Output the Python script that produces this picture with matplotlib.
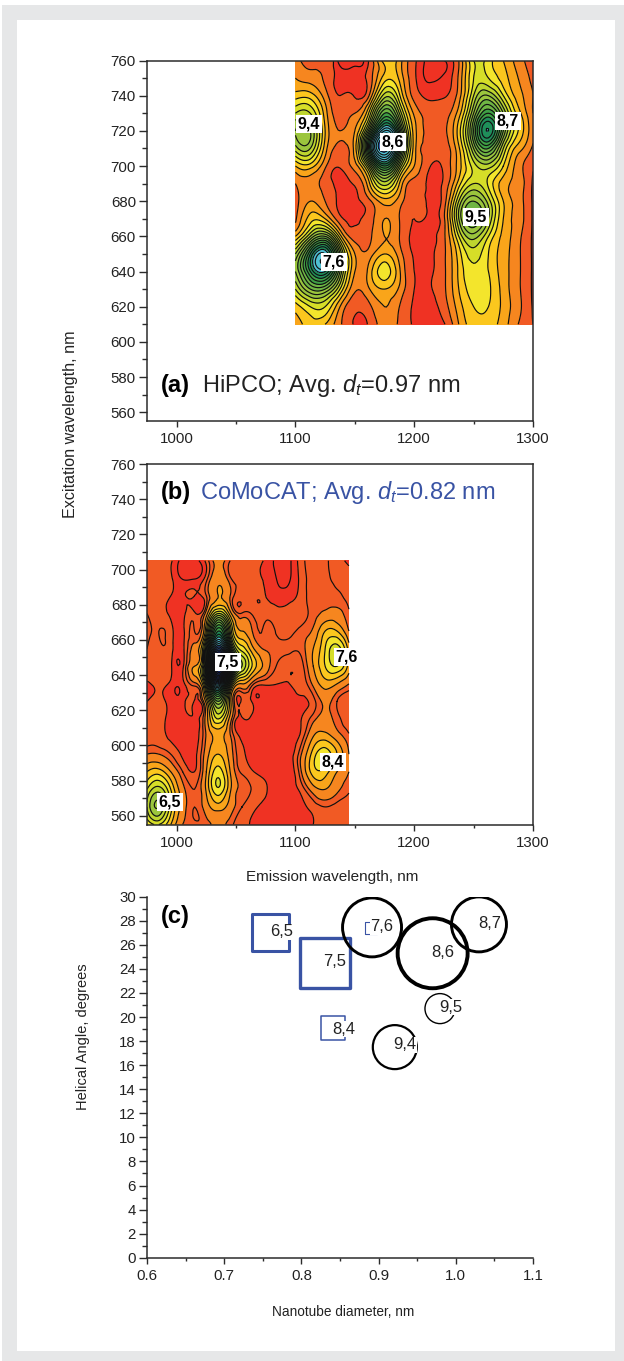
import numpy as np
import matplotlib
matplotlib.use('Agg')
import matplotlib.pyplot as plt
import matplotlib.tri as mtri
from matplotlib.colors import ListedColormap, BoundaryNorm
from matplotlib.patches import Rectangle
from matplotlib.ticker import MultipleLocator

plt.rcParams['font.family'] = ['Liberation Sans', 'DejaVu Sans']
plt.rcParams['mathtext.fontset'] = 'custom'
plt.rcParams['mathtext.rm'] = 'Liberation Sans'
plt.rcParams['mathtext.it'] = 'Liberation Sans:italic'

W, H = 624, 1361

# panel (a), HiPCO map (one unit = one contour line)
hipco_x = [1100, 1112.5, 1125, 1137.5, 1150, 1162.5, 1175, 1187.5, 1200, 1212.5, 1225, 1237.5, 1250, 1262.5, 1275, 1287.5, 1300]
hipco_y = [610, 620, 630, 640, 650, 660, 670, 680, 690, 700, 710, 720, 730, 740, 750, 760]
hipco_z = [
    [3.5, 4.5, 4, 2.2, 0.9, 1.2, 2.5, 1.8, 0.9, 0.7, 0.9, 3, 4.5, 4.5, 3.5, 2, 1],
    [4.5, 6, 6, 3, 1.2, 1.8, 3, 2, 0.9, 0.7, 1.5, 3.5, 5, 5, 3.7, 2.3, 0.9],
    [7, 10, 10, 6, 2.2, 3, 4, 2.8, 1, 0.9, 1.8, 4, 5.5, 5.2, 3.6, 2.2, 0.85],
    [9, 14, 16, 9, 3, 3.5, 5.5, 3.2, 1, 0.85, 1.8, 4.2, 5.8, 5, 3.5, 2.2, 0.85],
    [8, 14, 17, 9, 3, 2.5, 4, 2.5, 0.9, 0.85, 1.8, 4.5, 6.5, 5, 3.5, 2.2, 0.85],
    [4, 8, 10, 4.5, 1.5, 1.8, 3, 2, 0.85, 0.85, 1.8, 6, 8.5, 6, 3.7, 2.3, 0.85],
    [1.8, 4.5, 4, 1.3, 0.85, 1.5, 3, 2, 1, 0.85, 1.8, 8, 11, 8, 4, 2.5, 0.85],
    [1.5, 3, 2, 0.85, 0.85, 1.8, 3.5, 2.5, 1.2, 0.85, 1.5, 7, 10, 7.5, 4, 2.5, 0.85],
    [2, 2.5, 1.5, 0.85, 1.1, 4, 7.5, 4, 1.5, 0.85, 1.2, 4.5, 7, 5.8, 3.5, 2.5, 0.85],
    [4, 4.5, 2.2, 1.1, 2.5, 8, 14, 8, 3, 1.1, 1.2, 3.5, 6.5, 7.5, 5, 2.5, 1.1],
    [7.5, 8, 3.5, 1.7, 3.5, 14, 21, 13, 3.5, 1.6, 1.5, 3.8, 9, 12, 7, 3.5, 1.8],
    [9, 9, 4, 2, 3, 10, 18, 12, 3.5, 1.8, 1.8, 4.5, 11, 16, 10, 5, 2.2],
    [7, 7, 3.5, 1.5, 2, 5.5, 12, 8, 2.8, 1.6, 1.6, 3.5, 9, 13, 9, 4.5, 2],
    [4.5, 4.5, 2.5, 1, 0.9, 2.2, 7.5, 5.2, 1.6, 0.8, 0.9, 2.5, 7, 9, 6, 3.5, 2],
    [3, 2.5, 1.8, 0.7, 0.7, 1.5, 4.5, 3.8, 1.2, 0.45, 0.55, 2.2, 6, 6, 4.5, 3, 1.7],
    [2.5, 1.5, 1.8, 0.3, 0.4, 1.2, 4.5, 3.5, 1.2, 0.4, 0.5, 2, 6, 5.5, 4, 2.5, 1.5],
]

# panel (b), CoMoCAT map
como_x = [975, 985, 995, 1005, 1015, 1025, 1035, 1045, 1055, 1065, 1075, 1085, 1095, 1105, 1115, 1125, 1135, 1145]
como_y = [555, 565, 575, 585, 595, 605, 615, 625, 635, 645, 655, 665, 675, 685, 695, 705]
como_z = [
    [5, 6, 4, 2, 1.6, 1.7, 2.2, 1.7, 1.2, 0.9, 0.8, 0.8, 0.8, 0.8, 1, 1.3, 1.2, 1.2],
    [7, 9, 5.5, 2.5, 1.5, 2.5, 3.5, 2.5, 1.5, 1.1, 0.85, 0.8, 0.8, 0.9, 1.2, 1.5, 1.3, 1.2],
    [6, 7.5, 5, 2.3, 1.5, 3.2, 5.8, 3.2, 1.8, 1.4, 1.05, 0.8, 0.8, 1.2, 2.5, 3, 2.2, 1.6],
    [4, 4.5, 3, 1.5, 1, 3, 5.5, 3, 1.4, 1, 0.85, 0.8, 0.8, 2, 4.5, 4.5, 3, 2],
    [2, 2, 1.5, 0.9, 0.85, 2.5, 4, 2.5, 1.1, 0.85, 0.8, 0.8, 0.8, 2, 4.5, 5.5, 4, 2],
    [1.2, 1.2, 0.9, 0.8, 0.8, 2.1, 3.3, 2.1, 0.9, 0.8, 0.8, 0.8, 0.8, 1.2, 3, 3.5, 2.5, 1.6],
    [1.1, 1.15, 0.85, 0.8, 0.9, 2.5, 6, 2.5, 0.9, 0.8, 0.8, 0.8, 0.8, 1, 1.8, 2.3, 1.7, 1.2],
    [1, 1.1, 0.8, 0.8, 0.95, 3.5, 10, 3.5, 1.1, 0.8, 0.8, 0.8, 0.8, 0.9, 1.3, 2.2, 1.5, 1.1],
    [0.95, 1.1, 0.85, 0.8, 1.8, 8, 20, 8, 3, 1.5, 1.1, 1, 1, 1.2, 2.2, 3.5, 3, 2],
    [1.3, 1.3, 1.1, 0.85, 3, 11, 30, 18, 8, 4.5, 2.5, 1.4, 1.1, 1.3, 3, 5, 6, 3.5],
    [1.5, 1.4, 1.2, 0.85, 2.3, 9, 22, 12, 5.5, 3, 1.9, 1.7, 1.6, 1.7, 3, 5, 6.5, 3.5],
    [1.6, 1.5, 1.2, 0.85, 1.5, 5, 14, 7, 3, 1.8, 1.6, 1.4, 1.35, 1.6, 2.2, 4, 4, 2],
    [1.5, 1.2, 0.85, 0.8, 1.1, 2.5, 7, 3.5, 1.55, 1.35, 1.3, 1.2, 1.2, 1.3, 1.7, 2.2, 2.3, 1.55],
    [1.2, 1.2, 1, 0.9, 1, 1.5, 3, 2, 1.2, 1.1, 1, 0.7, 0.8, 1.2, 1.8, 1.7, 1.6, 1.3],
    [1.3, 1.3, 1.1, 0.45, 0.45, 1.3, 2.7, 1.6, 1.3, 1.2, 0.9, 0.45, 0.45, 1.2, 1.7, 1.6, 1.4, 1.2],
    [1.3, 1.3, 1.1, 0.3, 0.3, 1.2, 2.3, 1.5, 1.2, 1.2, 0.9, 0.3, 0.4, 1.3, 1.7, 1.6, 1.2, 0.9],
]

hipco_names = ['9,4', '8,6', '8,7', '9,5', '7,6']
hipco_lx = [1111.4, 1182, 1279, 1252, 1132.4]
hipco_ly = [723.8, 713.5, 725.5, 670.8, 645.2]
como_names = ['7,5', '7,6', '8,4', '6,5']
como_lx = [1043, 1143.4, 1131.6, 994.4]
como_ly = [647.4, 650.2, 590.4, 567.6]

# panel (c)
square_d = [0.7606, 0.8306, 0.841, 0.89]
square_a = [27.0, 24.5, 19.1, 27.4]
square_size = [37, 50, 24, 12]
circle_d = [0.8915, 0.970, 1.030, 0.9795, 0.921]
circle_a = [27.45, 25.3, 27.7, 20.7, 17.5]
circle_size = [59, 70, 55, 30, 44]
bubble_names = ['6,5', '7,5', '7,6', '8,6', '8,7', '9,5', '8,4', '9,4']
bubble_lx = [0.774, 0.843, 0.904, 0.983, 1.044, 0.994, 0.855, 0.934]
bubble_ly = [27.07, 24.6, 27.5, 25.4, 27.8, 20.8, 19.0, 17.7]

levels = [-5, 1, 2, 3, 4, 5, 6, 7, 8, 10, 12, 14, 16, 20, 24, 60]
colors = ['#ef3223', '#f15a24', '#f6861f', '#f9a51a', '#fbc71e', '#f3e52c', '#d6de28', '#bed52f',
          '#9bc53d', '#6fb544', '#3fa045', '#1f8f5a', '#50bfd3', '#2e5fb0', '#1c2f80']
cmap = ListedColormap(colors)
norm = BoundaryNorm(levels, cmap.N)
hipco_lines = [0.5] + list(range(1, 40))
como_lines = [0.5, 1, 1.5] + list(range(2, 40))
ink = '#2b2b2b'
blue = '#3953a4'


def axes_px(left, top, right, bottom):
    return fig.add_axes([left / W, 1 - bottom / H, (right - left) / W, (bottom - top) / H])


def ftext(x, y, s, **kw):
    return fig.text(x / W, 1 - y / H, s, **kw)


def style(ax):
    ax.tick_params(which='major', direction='out', length=6, width=1, color=ink, labelsize=10.8, pad=2, labelcolor='#222222')
    ax.tick_params(which='minor', direction='out', length=3.5, width=1, color=ink)
    ax.tick_params(axis='x', which='major', length=4, pad=4)
    ax.tick_params(axis='x', which='minor', length=2.5)
    for s in ax.spines.values():
        s.set_linewidth(1.1)
        s.set_color(ink)
        s.set_zorder(5)


def draw_map(ax, x, y, z, line_levels, names, lx, ly):
    xx, yy = np.meshgrid(x, y)
    tri = mtri.Triangulation(xx.ravel(), yy.ravel())
    refiner = mtri.UniformTriRefiner(tri)
    t2, z2 = refiner.refine_field(np.array(z, dtype=float).ravel(), subdiv=3)
    ax.tricontourf(t2, z2, levels=levels, cmap=cmap, norm=norm, extend='both')
    ax.tricontour(t2, z2, levels=line_levels, colors='#111111', linewidths=0.85)
    for n, a, b in zip(names, lx, ly):
        ax.text(a, b, n, fontsize=11.5, fontweight='bold', ha='center', va='center', color='black', zorder=6,
                bbox=dict(facecolor='white', edgecolor='none', pad=1.2))
    ax.set_xlim(975, 1300)
    ax.set_ylim(555, 760)
    ax.set_xticks([1000, 1100, 1200, 1300])
    ax.set_yticks(np.arange(560, 761, 20))
    ax.xaxis.set_minor_locator(MultipleLocator(50))
    ax.yaxis.set_minor_locator(MultipleLocator(10))
    style(ax)


fig = plt.figure(figsize=(W / 100, H / 100), dpi=100, facecolor='white')
fig.patches.append(Rectangle((2 / W, 0), 1, 1 - 5 / H, transform=fig.transFigure, facecolor='#e6e7e8', edgecolor='none', zorder=-2))
fig.patches.append(Rectangle((17 / W, 1 - 1351 / H), 598 / W, 1331 / H, transform=fig.transFigure, facecolor='white', edgecolor='none', zorder=-1))

ax1 = axes_px(147, 60.5, 533, 421)
draw_map(ax1, hipco_x, hipco_y, hipco_z, hipco_lines, hipco_names, hipco_lx, hipco_ly)
ax2 = axes_px(147, 464, 533, 824.5)
draw_map(ax2, como_x, como_y, como_z, como_lines, como_names, como_lx, como_ly)

ax3 = axes_px(147, 896.7, 533, 1257.7)
ax3.scatter(square_d, square_a, s=(np.array(square_size) * 0.72) ** 2, marker='s', facecolors='none',
            edgecolors=blue, linewidths=[2.2, 2.4, 1.1, 0.8])
ax3.scatter(circle_d, circle_a, s=(np.array(circle_size) * 0.72) ** 2, marker='o', facecolors='none',
            edgecolors='black', linewidths=[2.1, 2.8, 2.1, 1.0, 1.6])
for n, a, b in zip(bubble_names, bubble_lx, bubble_ly):
    ax3.text(a, b, n, fontsize=12, ha='center', va='center', color='#222222', zorder=6,
             bbox=dict(facecolor='white', edgecolor='none', pad=0.4))
ax3.set_xlim(0.6, 1.1)
ax3.set_ylim(0, 30)
ax3.set_xticks(np.arange(0.6, 1.11, 0.1))
ax3.set_yticks(np.arange(0, 31, 2))
ax3.xaxis.set_minor_locator(MultipleLocator(0.05))
ax3.yaxis.set_minor_locator(MultipleLocator(1))
style(ax3)
ax3.spines['top'].set_visible(False)
ax3.spines['right'].set_visible(False)

ftext(70, 424, 'Excitation wavelength, nm', fontsize=11.6, rotation=90, ha='center', va='center', color='#222222')
ftext(332, 877, 'Emission wavelength, nm', fontsize=11, ha='center', va='center', color='#222222')
ftext(83, 1037, 'Helical Angle, degrees', fontsize=10.5, rotation=90, ha='center', va='center', color='#222222')
ftext(343, 1312, 'Nanotube diameter, nm', fontsize=9.8, ha='center', va='center', color='#222222')

ftext(161, 386, '(a)', fontsize=17, fontweight='bold', va='center', color='black')
ftext(202, 386, r'HiPCO; Avg. $d_t$=0.97 nm', fontsize=17, va='center', color='#222222')
ftext(161, 493, '(b)', fontsize=17, fontweight='bold', va='center', color='black')
ftext(200, 493, r'CoMoCAT; Avg. $d_t$=0.82 nm', fontsize=17, va='center', color=blue)
ftext(161, 916, '(c)', fontsize=17, fontweight='bold', va='center', color='black')

fig.savefig('out.png', dpi=100)
